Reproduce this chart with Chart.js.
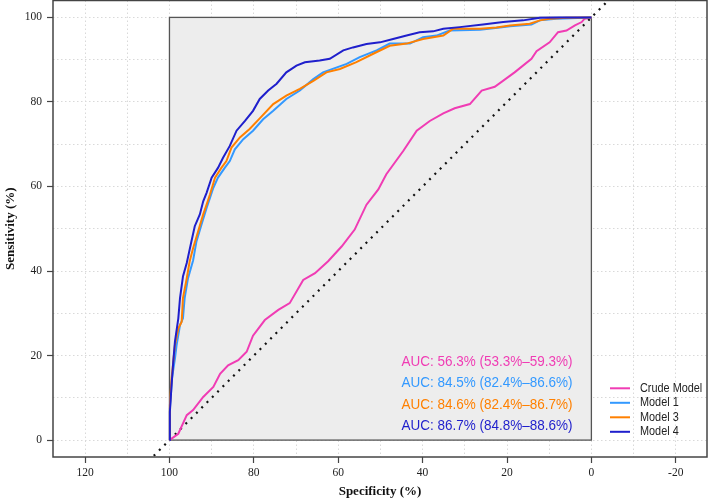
<!DOCTYPE html>
<html>
<head>
<meta charset="utf-8">
<script src="https://cdn.jsdelivr.net/npm/chart.js@4/dist/chart.umd.min.js"></script>
<style>
html,body{margin:0;padding:0;background:#fff;}
#wrap{width:708px;height:504px;}
</style>
</head>
<body>
<div id="wrap"><canvas id="c" width="708" height="504"></canvas></div>
<script>
// ---- data (specificity %, sensitivity %) ----
const crudeSpec = [100,97.9,95.9,94.4,92.0,89.6,88.0,86.1,83.7,81.7,80.2,77.4,74.2,71.5,68.3,65.5,62.4,59.2,56.1,53.3,50.5,48.6,44.6,41.4,38.3,35.1,32.4,28.8,26.0,22.9,18.2,14.2,13.0,9.9,7.9,5.9,3.9,2.3,1.6,0];
const crudeSens = [0,1.5,5.9,7.1,10.2,12.6,15.7,17.7,18.9,20.9,24.7,28.4,30.8,32.4,37.9,39.5,42.3,45.8,49.8,55.7,59.3,62.9,68.4,73.2,75.5,77.3,78.5,79.5,82.7,83.6,87.0,90.2,92.0,94.1,96.5,96.9,98.1,98.9,99.7,100];

const model1Spec = [100,99.9,99.4,98.7,98.3,97.5,96.8,96.4,95.6,94.4,93.6,92.4,91.2,90.4,89.6,88.5,86.9,85.7,84.5,82.5,80.2,77.8,75.4,72.3,69.1,65.9,63.6,58.0,54.9,50.9,47.8,43.0,39.9,36.7,33.6,26.4,21.7,19.3,14.2,12.2,8.3,0];
const model1Sens = [0,7.4,14.6,19.3,22.5,27.2,28.8,33.6,38.3,42.5,47.0,51.0,54.9,57.3,59.7,62.1,64.4,66.0,68.8,71.2,73.2,75.9,77.9,80.7,82.7,85.4,87.0,89.0,90.6,92.2,93.8,93.8,95.3,95.7,96.9,97.1,97.6,97.9,98.3,99.3,99.7,100];

const model3Spec = [100,99.9,99.5,99.1,98.7,97.9,97.1,96.8,95.9,95.2,94.4,93.2,92.0,91.2,90.4,89.2,87.7,86.5,85.3,83.3,81.0,78.6,75.4,72.3,69.1,65.9,62.8,59.6,55.7,51.7,47.8,43.8,39.9,35.1,32.8,26.4,22.5,19.3,14.6,12.2,9.9,5.9,0];
const model3Sens = [0,8.2,14.6,18.5,22.5,26.4,28.0,33.6,38.3,42.3,45.4,49.4,53.4,55.7,58.1,62.1,64.4,66.0,69.2,71.6,73.6,76.1,79.5,81.5,83.1,85.0,87.0,87.8,89.4,91.4,93.3,93.8,94.9,95.7,97.3,97.3,97.6,98.1,98.5,99.3,99.7,99.9,100];

const model4Spec = [100,99.9,99.5,99.1,98.7,97.9,97.5,96.8,95.9,94.8,94.0,92.8,92.0,91.2,90.0,88.5,87.3,85.7,84.1,82.1,80.2,78.6,76.6,74.6,72.3,69.9,67.9,64.4,62.0,58.8,56.5,53.3,50.1,47.0,43.8,40.7,37.5,35.1,31.2,25.7,20.9,16.2,12.2,7.5,0];
const model4Sens = [0,6.7,13.0,18.5,23.3,28.8,33.6,38.7,41.9,47.0,50.6,53.4,56.5,58.5,62.1,64.4,66.8,69.6,73.2,75.5,77.9,80.7,82.7,84.3,87.0,88.6,89.4,89.8,90.2,92.2,92.9,93.7,94.1,94.9,95.7,96.5,96.7,97.3,97.7,98.3,98.9,99.3,99.9,100,100];

const seriesNames = ['Crude Model','Model 1','Model 3','Model 4'];
const seriesColors = ['#F03CB4','#3399FF','#FF8000','#1F1FCC'];
const aucLabels = ['AUC: 56.3% (53.3%\u201359.3%)','AUC: 84.5% (82.4%\u201386.6%)','AUC: 84.6% (82.4%\u201386.7%)','AUC: 86.7% (84.8%\u201388.6%)'];

const diagSpec = [110,-10];
const diagSens = [-10,110];

const xGridValues = [120,110,100,90,80,70,60,50,40,30,20,10,0,-10,-20];
const xTickLabels = [120,100,80,60,40,20,0,-20];
const yGridValues = [0,10,20,30,40,50,60,70,80,90,100];
const yTickLabels = [0,20,40,60,80,100];

function pts(xs, ys){ return xs.map((x,i)=>({x:x, y:ys[i]})); }

const specArrays = [crudeSpec, model1Spec, model3Spec, model4Spec];
const sensArrays = [crudeSens, model1Sens, model3Sens, model4Sens];

const datasets = seriesNames.map((n,i)=>({
  label:n,
  data:pts(specArrays[i], sensArrays[i]),
  borderColor:seriesColors[i],
  backgroundColor:seriesColors[i],
  borderWidth:2,
  pointRadius:0,
  showLine:true,
  fill:false,
  tension:0,
  order: 3 - i
}));
datasets.push({
  label:'diag',
  data:pts(diagSpec, diagSens),
  borderColor:'#111',
  borderWidth:2.2,
  borderDash:[2,5.5],
  pointRadius:0,
  showLine:true,
  fill:false,
  order:10
});

function squeezedText(ctx, text, x, y, sx){
  ctx.save();
  ctx.translate(x, y);
  ctx.scale(sx, 1);
  ctx.fillText(text, 0, 0);
  ctx.restore();
}

const grayBox = {
  id:'grayBox',
  beforeDatasetsDraw(chart){
    const {ctx, scales:{x,y}} = chart;
    const x0 = x.getPixelForValue(100), x1 = x.getPixelForValue(0);
    const y0 = y.getPixelForValue(0), y1 = y.getPixelForValue(100);
    ctx.save();
    ctx.fillStyle = '#EDEDED';
    ctx.fillRect(x0, y1, x1-x0, y0-y1);
    ctx.strokeStyle = '#555';
    ctx.lineWidth = 1.3;
    ctx.strokeRect(x0, y1, x1-x0, y0-y1);
    ctx.restore();
  },
  afterDraw(chart){
    const {ctx, chartArea:a} = chart;
    ctx.save();
    ctx.strokeStyle = '#444';
    ctx.lineWidth = 1.5;
    ctx.strokeRect(a.left, a.top, a.right-a.left, a.bottom-a.top);
    // AUC texts
    ctx.font = '15px "Liberation Sans", Arial, sans-serif';
    ctx.textBaseline = 'middle';
    ctx.textAlign = 'left';
    aucLabels.forEach((t,i)=>{
      ctx.fillStyle = seriesColors[i];
      squeezedText(ctx, t, 401.5, 361.7 + i*21.4, 0.9);
    });
    // legend
    ctx.font = '12.5px "Liberation Sans", Arial, sans-serif';
    seriesNames.forEach((n,i)=>{
      const yy = 388.3 + i*14.5;
      ctx.strokeStyle = seriesColors[i];
      ctx.lineWidth = 2;
      ctx.beginPath(); ctx.moveTo(610, yy); ctx.lineTo(630, yy); ctx.stroke();
      ctx.fillStyle = '#222';
      squeezedText(ctx, n, 640, yy, 0.87);
    });
    ctx.restore();
  }
};

const tickFont = {family:'"Liberation Serif", "Times New Roman", serif', size:11.5};
const titleFont = {family:'"Liberation Serif", "Times New Roman", serif', size:13, weight:'bold'};

new Chart(document.getElementById('c'), {
  type:'scatter',
  data:{datasets},
  plugins:[grayBox],
  options:{
    responsive:false,
    animation:false,
    devicePixelRatio:1,
    layout:{padding:{top:0.5,right:1,left:0,bottom:0}},
    plugins:{legend:{display:false}, tooltip:{enabled:false}},
    scales:{
      x:{
        type:'linear', reverse:true, min:-27.4, max:127.6,
        afterBuildTicks(s){ s.ticks = xGridValues.map(v=>({value:v})); },
        afterFit(s){ s.height = 47; s.paddingLeft = 0; s.paddingRight = 0; },
        ticks:{autoSkip:false, maxRotation:0, padding:3, font:tickFont, color:'#222',
          callback:(v)=> xTickLabels.includes(v) ? String(v) : ''},
        grid:{color:'#D9D9D9', lineWidth:1, drawTicks:true, tickLength:6, tickWidth:1.2,
          tickColor:(c)=> (c.tick && xTickLabels.includes(c.tick.value)) ? '#444' : 'rgba(0,0,0,0)'},
        border:{display:false, dash:[1.5,2.5]},
        title:{display:true, text:'Specificity (%)', font:titleFont, color:'#111', padding:{top:0,bottom:5}}
      },
      y:{
        type:'linear', min:-4, max:104,
        afterBuildTicks(s){ s.ticks = yGridValues.map(v=>({value:v})); },
        afterFit(s){ s.width = 53; s.paddingTop = 0; s.paddingBottom = 0; },
        ticks:{autoSkip:false, padding:5, font:tickFont, color:'#222',
          callback:(v)=> yTickLabels.includes(v) ? String(v) : ''},
        grid:{color:'#D9D9D9', lineWidth:1, drawTicks:true, tickLength:6, tickWidth:1.2,
          tickColor:(c)=> (c.tick && yTickLabels.includes(c.tick.value)) ? '#444' : 'rgba(0,0,0,0)'},
        border:{display:false, dash:[1.5,2.5]},
        title:{display:true, text:'Sensitivity (%)', font:titleFont, color:'#111', padding:{top:3,bottom:0}}
      }
    }
  }
});
</script>
</body>
</html>
